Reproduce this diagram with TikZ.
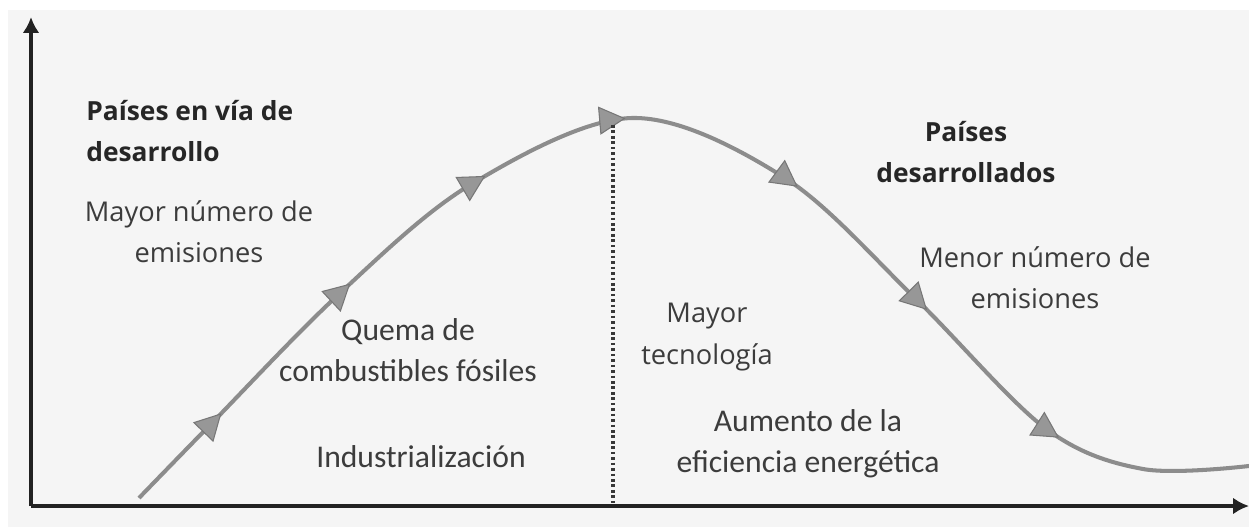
\documentclass[tikz,border=0pt]{standalone}
\usepackage{fontspec}
\setmainfont{Carlito}
\newfontfamily\segoefont{Open Sans}
\usetikzlibrary{arrows.meta}
\usetikzlibrary{decorations.markings}
\definecolor{paper}{HTML}{F5F5F5}
\definecolor{axisblack}{HTML}{222222}
\definecolor{curvegray}{HTML}{8C8C8C}
\definecolor{tipgray}{HTML}{979797}
\definecolor{tipedge}{HTML}{777777}
\definecolor{textgray}{HTML}{3C3C3C}
\definecolor{titlegray}{HTML}{262626}
\tikzset{
  axisline/.style={line width=2.3pt, color=axisblack, arrows={-Latex[length=9pt,width=9.5pt]}},
  flowtip/.tip={Triangle[length=15pt,width=16pt,fill=tipgray,color=tipedge,line width=0.6pt]},
  calibritext/.style={inner sep=0pt, align=center, text=textgray, font=\fontsize{18}{23.5}\selectfont},
  segoetext/.style={inner sep=0pt, align=center, text=textgray, font=\segoefont\fontsize{15.5}{23.5}\selectfont},
  titletext/.style={inner sep=0pt, text=titlegray, font=\segoefont\bfseries\fontsize{15}{23.5}\selectfont}
}

\begin{document}
\begin{tikzpicture}[x=0.02cm, y=-0.02cm]
        % Page and panel
        \useasboundingbox (0,0) rectangle (1249,527);
        \fill[white] (0,0) rectangle (1249,527);
        \fill[paper] (8,10) rectangle (1249,527);
        % Draw coordinate system
        \coordinate (origin) at (31,506);
        \coordinate (ytip) at (31,17);
        \coordinate (xtip) at (1249,506);
        \draw [axisline] (origin) -- (ytip);
        \draw [axisline] (origin) -- (xtip);
        % Emissions curve (arrows put on with markings)
        \draw [line width=2.3pt, color=curvegray, postaction={decorate},
               decoration={markings,
                 mark=at position 0.086 with {\arrow{flowtip}},
                 mark=at position 0.219 with {\arrow{flowtip}},
                 mark=at position 0.345 with {\arrow{flowtip}},
                 mark=at position 0.456 with {\arrow{flowtip}},
                 mark=at position 0.593 with {\arrow{flowtip}},
                 mark=at position 0.723 with {\arrow{flowtip}},
                 mark=at position 0.857 with {\arrow{flowtip}}}]
          plot [smooth, tension=0.55] coordinates {(139,498) (210,425) (338,295) (470,185)
            (632,118) (785,178) (915,298) (1045,428) (1143,469) (1249,466)};
        % Peak marker
        \coordinate (peak) at (613,125);
        \coordinate (peakfoot) at (613,506);
        \draw [line width=1.8pt, color=axisblack!90, dash pattern=on 1.5pt off 1.6pt] (peak) -- (peakfoot);
        % Left side labels
        \node [titletext, anchor=west, align=left] (devtitle) at (86,131) {Países en vía de\\desarrollo};
        \node [segoetext] (moreemis) at (199,232) {Mayor número de\\emisiones};
        \node [calibritext] (fossil) at (408,350) {Quema de\\combustibles fósiles};
        \node [calibritext] (industry) at (421,457) {Industrialización};
        % Right side labels
        \node [segoetext] (tech) at (707,337) {Mayor\\tecnología};
        \node [calibritext] (efficiency) at (808,444) {Aumento de la\\eficiencia energética};
        \node [titletext, align=center] (devdtitle) at (966,152) {Países\\desarrollados};
        \node [segoetext] (lessemis) at (1035,278) {Menor número de\\emisiones};
      \end{tikzpicture}
\end{document}
